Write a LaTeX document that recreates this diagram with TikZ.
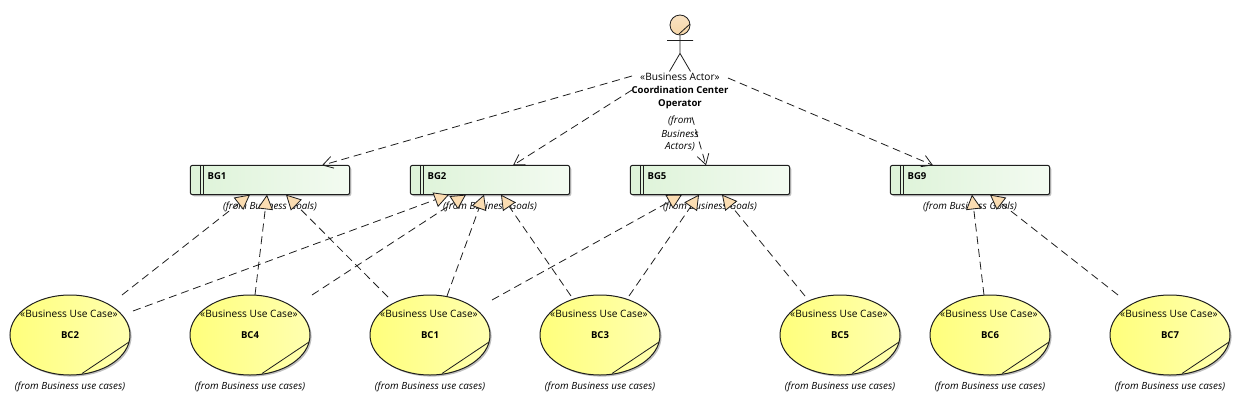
\documentclass[tikz,border=0pt]{standalone}
\usepackage{fontspec}
\setmainfont{Open Sans}
\usetikzlibrary{arrows.meta,calc,shapes.geometric,shadows}
\definecolor{edgecol}{HTML}{1E1E1E}
\definecolor{peach}{HTML}{FBDDB2}
\tikzset{
  x=0.75pt,y=-0.75pt,
  goalbox/.style={draw=edgecol,line width=0.75pt,rounded corners=1.6pt,minimum width=119.5pt,minimum height=22pt,inner sep=0pt,outer sep=0pt,left color=goalL,right color=goalR,drop shadow={shadow xshift=1.2pt,shadow yshift=-1.2pt,opacity=0.25,fill=black}},
  usecase/.style={ellipse,draw=edgecol,line width=0.75pt,minimum width=90pt,minimum height=60pt,inner sep=0pt,outer sep=0pt,left color=caseL,right color=caseR,drop shadow={shadow xshift=1.2pt,shadow yshift=-1.2pt,opacity=0.25,fill=black}},
  txt/.style={font=\fontsize{7.6pt}{9pt}\selectfont,inner sep=0pt,text=black},
  origin/.style={font=\fontsize{7.4pt}{9pt}\selectfont\itshape,inner sep=0pt,text=black},
  bold/.style={font=\fontsize{7.15pt}{9.75pt}\selectfont\bfseries,inner sep=0pt,text=black},
  realize/.style={dash pattern=on 6pt off 3.6pt,draw=edgecol,line width=0.6pt,-{Triangle[length=11pt,width=11.5pt,fill=peach]}},
  assoc/.style={dash pattern=on 6pt off 3.6pt,draw=edgecol,line width=0.6pt,-{Straight Barb[length=7.5pt,width=9pt]}},
}
\definecolor{goalL}{HTML}{DDF3D8}
\definecolor{goalR}{HTML}{F3FBF1}
\definecolor{caseL}{HTML}{FFFF7C}
\definecolor{caseR}{HTML}{FFFFB0}
\definecolor{headcol}{HTML}{F6D6A8}
\begin{document}
\begin{tikzpicture}
\useasboundingbox (0,0) rectangle (1240,404);
% goals
\foreach \n/\x in {BG1/270,BG2/490,BG5/710,BG9/970}{
  \node[goalbox] (\n) at (\x,180) {};
  \draw[edgecol,line width=0.6pt] ($(\n.north west)+(10,0)$) -- ($(\n.south west)+(10,0)$)
       ($(\n.north west)+(13,0)$) -- ($(\n.south west)+(13,0)$);
  \node[bold,anchor=west] (\n t) at ($(\n.west)+(17,-3.5)$) {\n};
  \node[origin] (\n o) at ($(\n.south)+(0,12)$) {(from Business Goals)};
}
% use cases
\foreach \n/\x in {BC2/70,BC4/250,BC1/430,BC3/600,BC5/840,BC6/990,BC7/1170}{
  \node[usecase] (\n) at (\x,335) {};
  \draw[edgecol,line width=0.6pt] ($(\n.center)+(12,38.5)$) -- ($(\n.center)+(59,7)$);
  \node[txt] (\n s) at ($(\n.center)+(-1,-21.5)$) {«Business Use Case»};
  \node[bold] (\n t) at ($(\n.center)+(0,0.5)$) {\n};
  \node[origin] (\n o) at ($(\n.center)+(0,51.5)$) {(from Business use cases)};
}
% actor
\node[circle,draw=edgecol,line width=0.6pt,minimum size=15pt,inner sep=0pt,top color=headcol!70!white,bottom color=headcol] (head) at (680,25) {};
\draw[edgecol,line width=0.6pt] ($(head.center)+(-1,9)$) -- ($(head.center)+(10,-1)$);
\draw[edgecol,line width=0.6pt] (head.south) -- ++(0,18) coordinate (hip) -- ++(-10.5,18)
  (hip) -- ++(10.5,18)
  ($(head.south)+(-13,5)$) -- ++(26,0);
\node[minimum width=72pt,minimum height=30pt,inner sep=0pt,outer sep=0pt] (op) at (680,90) {};
\node[txt] (opS) at (680,77) {«Business Actor»};
\node[bold] (opN) at (680,97) {\begin{tabular}{@{}c@{}}Coordination Center\\Operator\end{tabular}};
\node[origin] (opO1) at (680,120.5) {(from};
\node[origin] (opO2) at (680,133.5) {Business};
\node[origin] (opO3) at (680,146.5) {Actors)};
% association
\draw[assoc] ($(op.north west)+(0,6)$) -- ($(BG1.north)+(52,0)$);
\draw[assoc] ($(op.north west)+(0,20)$) -- ($(BG2.north)+(23,0)$);
\draw[assoc] ($(op.south)+(12,7)$) -- ($(BG5.north)+(-4,0)$);
\draw[assoc] ($(op.north east)+(0,8)$) -- ($(BG9.north)+(-37,0)$);
% realizations
\draw[realize] ($(BC2.north)+(52,0)$) -- ($(BG1.south)+(-20,0)$);
\draw[realize] ($(BC4.north)+(5,0)$) -- ($(BG1.south)+(-3,0)$);
\draw[realize] ($(BC1.north)+(-42,2)$) -- ($(BG1.south)+(16,0)$);
\draw[realize] ($(BC2.north)+(63,16)$) -- ($(BG2.south)+(-41,0)$);
\draw[realize] ($(BC4.north)+(62,0)$) -- ($(BG2.south)+(-24,0)$);
\draw[realize] ($(BC1.north)+(17,1)$) -- ($(BG2.south)+(-6,0)$);
\draw[realize] ($(BC3.north)+(-29,1)$) -- ($(BG2.south)+(11,0)$);
\draw[realize] ($(BC1.north)+(62,5)$) -- ($(BG5.south)+(-28,0)$);
\draw[realize] ($(BC3.north)+(29,1)$) -- ($(BG5.south)+(-11,0)$);
\draw[realize] ($(BC5.north)+(-35,1)$) -- ($(BG5.south)+(12,0)$);
\draw[realize] ($(BC6.north)+(-6,0)$) -- ($(BG9.south)+(2,0)$);
\draw[realize] ($(BC7.north)+(-52,0)$) -- ($(BG9.south)+(20,0)$);
\end{tikzpicture}
\end{document}
